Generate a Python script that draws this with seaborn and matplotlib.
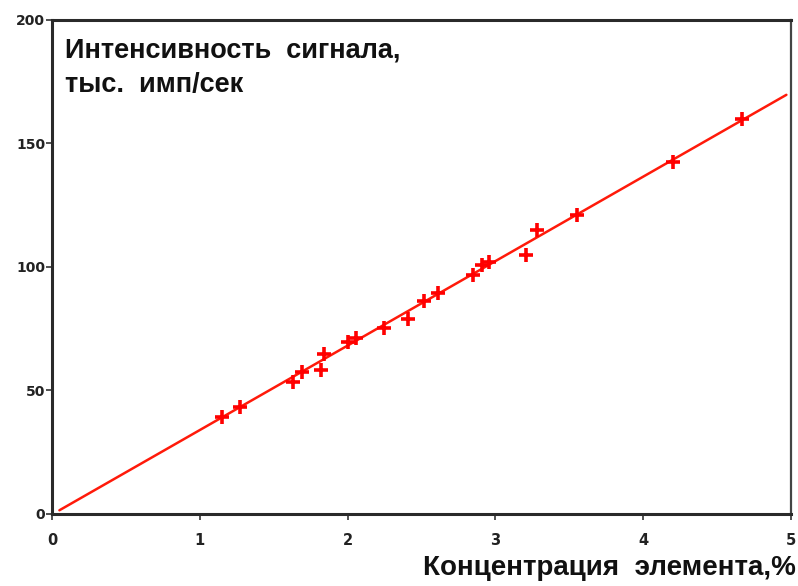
import matplotlib
matplotlib.use("Agg")
import matplotlib.pyplot as plt
import seaborn as sns
import pandas as pd

# Measured calibration samples: concentration (%) vs signal (thousand counts/s)
concentration = [1.15, 1.27, 1.63, 1.69, 1.82, 1.84, 2.00, 2.06, 2.25, 2.41,
                 2.52, 2.61, 2.85, 2.91, 2.96, 3.21, 3.28, 3.55, 4.20, 4.67]
intensity = [39.3, 43.3, 53.4, 57.5, 58.3, 64.8, 69.5, 71.3, 75.3, 79.0,
             86.2, 89.5, 96.8, 100.8, 102.0, 104.9, 115.0, 121.0, 142.5, 160.0]

# Calibration line endpoints
fit_x = [0.05, 4.97]
fit_y = [1.5, 169.7]

x_ticks = [0, 1, 2, 3, 4, 5]
y_ticks = [0, 50, 100, 150, 200]

sns.set_theme(style="white")
plt.rcParams["font.family"] = ["Liberation Sans", "DejaVu Sans"]

fig = plt.figure(figsize=(7.98, 5.86), dpi=100)
ax = fig.add_axes([0.0652, 0.1229, 0.9258, 0.843])

points = pd.DataFrame({"c": concentration, "i": intensity})
line = pd.DataFrame({"c": fit_x, "i": fit_y})

sns.lineplot(data=line, x="c", y="i", color="#ff1a0a", linewidth=1.8, ax=ax)
sns.scatterplot(data=points, x="c", y="i", marker="+", s=110, color="#ff0000",
                linewidth=2.6, ax=ax, zorder=3)

ax.set_xlim(0, 5)
ax.set_ylim(0, 200)
ax.set_xticks(x_ticks)
ax.set_yticks(y_ticks)
ax.set_xticklabels([str(v) for v in x_ticks], fontsize=10.5, fontweight="bold",
                   family="DejaVu Sans", color="#222222")
ax.set_yticklabels([str(v) for v in y_ticks], fontsize=10, fontweight="bold",
                   family="DejaVu Sans", color="#222222")
ax.tick_params(axis="x", direction="out", length=4, width=1.2, pad=10, color="#333333",
               bottom=True)
ax.tick_params(axis="y", direction="out", length=4, width=1.2, pad=1, color="#333333",
               left=True)

ax.set_xlabel("")
ax.set_ylabel("")

for side in ["left", "bottom", "top"]:
    ax.spines[side].set_linewidth(2.2)
    ax.spines[side].set_color("#2a2a2a")
ax.spines["right"].set_linewidth(1.6)
ax.spines["right"].set_color("#444444")

ax.text(0.017, 0.965, "Интенсивность  сигнала,\nтыс.  имп/сек", transform=ax.transAxes,
        ha="left", va="top", fontsize=19.5, fontweight="bold", color="#111111",
        linespacing=1.45)

fig.text(0.997, 0.008, "Концентрация  элемента,%", ha="right", va="bottom",
         fontsize=20, fontweight="bold", color="#111111")

fig.savefig("out.png", dpi=100)
